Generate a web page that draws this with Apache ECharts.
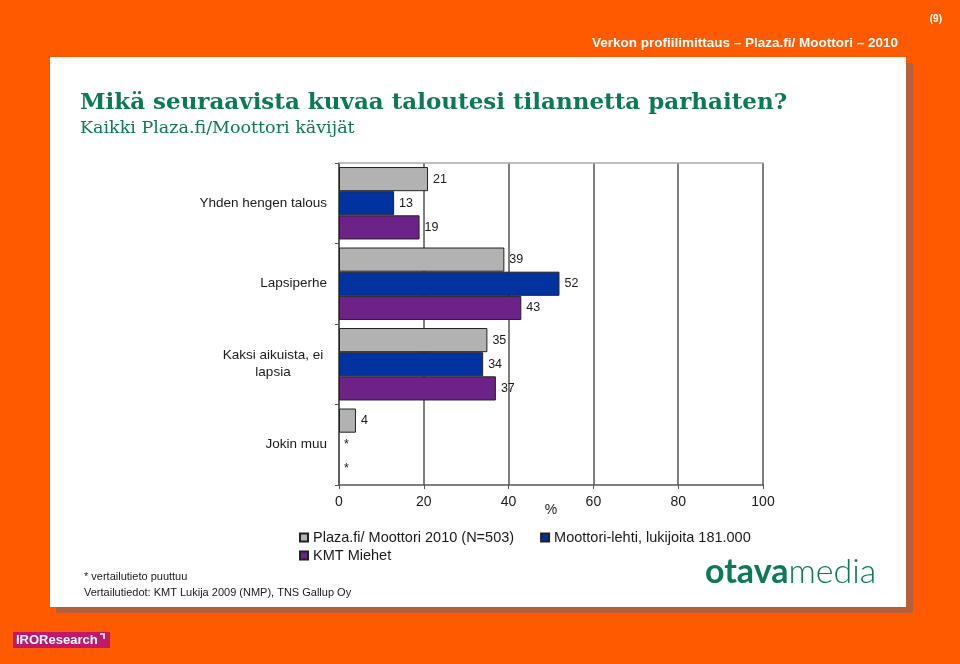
<!DOCTYPE html>
<html><head><meta charset="utf-8">
<script src="https://cdn.jsdelivr.net/npm/echarts@6/dist/echarts.min.js"></script>
<style>html,body{margin:0;padding:0;background:#FF5A00}#c{width:960px;height:664px}</style>
</head><body><div id="c"></div>
<script>
const categories = ['Yhden hengen talous', 'Lapsiperhe', 'Kaksi aikuista, ei\nlapsia', 'Jokin muu'];
const seriesNames = ['Plaza.fi/ Moottori 2010 (N=503)', 'Moottori-lehti, lukijoita 181.000', 'KMT Miehet'];
const plaza = [21, 39, 35, 4];
const moottori = [13, 52, 34, null];
const kmt = [19, 43, 37, null];
const xTicks = [0, 20, 40, 60, 80, 100];
const colors = ['#B2B2B2', '#0033A0', '#6C2286'];

const seriesValues = [plaza, moottori, kmt];
function mkData(arr) {
  return arr.map(v => v == null ? { value: 0, missing: true, itemStyle: { borderWidth: 0 } } : v);
}
const TXT = '#1a1a1a';
const FONT = 'Liberation Sans, Arial, sans-serif';
const GREEN = '#0B7A55';

const chart = echarts.init(document.getElementById('c'));
chart.setOption({
  backgroundColor: '#FF5A00',
  animation: false,
  textStyle: { fontFamily: FONT },
  grid: { left: 339, right: 197, top: 163, bottom: 179, containLabel: false },
  legend: [
    { data: seriesNames.slice(0, 2), left: 294, top: 525, itemWidth: 8, itemHeight: 8, itemGap: 26,
      textStyle: { fontSize: 14.5, color: TXT, fontFamily: FONT }, icon: 'rect', selectedMode: false },
    { data: seriesNames.slice(2), left: 294, top: 543, itemWidth: 8, itemHeight: 8,
      textStyle: { fontSize: 14.5, color: TXT, fontFamily: FONT }, icon: 'rect', selectedMode: false }
  ],
  xAxis: [
    { type: 'value', min: xTicks[0], max: xTicks[xTicks.length - 1], interval: 20,
      name: '%', nameLocation: 'middle', nameGap: 18, nameMoveOverlap: false,
      nameTextStyle: { fontSize: 14, color: TXT, fontFamily: FONT },
      axisLine: { show: true, lineStyle: { color: '#555', width: 1.5 } },
      axisTick: { show: true, length: 4, lineStyle: { color: '#555' } },
      axisLabel: { fontSize: 14, color: TXT, margin: 10, fontFamily: FONT },
      splitLine: { show: true, lineStyle: { color: '#555', width: 1.5 } } },
    { type: 'value', position: 'top', min: 0, max: 100,
      axisLine: { show: true, lineStyle: { color: '#aaa', width: 1.5 } },
      axisTick: { show: false }, axisLabel: { show: false }, splitLine: { show: false } }
  ],
  yAxis: {
    type: 'category', data: categories, inverse: true,
    axisLine: { show: true, lineStyle: { color: '#555', width: 1.5 } },
    axisTick: { show: true, length: 4, lineStyle: { color: '#555' } },
    axisLabel: {
      fontSize: 13.5, color: TXT, margin: 12, fontFamily: FONT, lineHeight: 17,
      formatter: v => v.indexOf('\n') >= 0 ? v.split('\n').map(s => '{c|' + s + '}').join('\n') : v,
      rich: { c: { width: 108, align: 'center', fontSize: 13.5, color: TXT, lineHeight: 17, fontFamily: FONT } }
    }
  },
  series: seriesNames.map((n, i) => ({
    name: n, type: 'bar', xAxisIndex: 0,
    data: mkData(seriesValues[i]),
    barGap: '0%', barCategoryGap: '10%',
    itemStyle: { color: colors[i], borderColor: '#222', borderWidth: 1 },
    label: { show: true, position: 'right', distance: 5, fontSize: 12.5, color: TXT, fontFamily: FONT,
      formatter: p => (p.data && p.data.missing) ? '*' : p.value }
  })),
  graphic: [
    { type: 'rect', z: -2, shape: { x: 56, y: 63, width: 857, height: 550 }, style: { fill: '#B5603A' } },
    { type: 'rect', z: -1, shape: { x: 50, y: 57, width: 856, height: 550 }, style: { fill: '#ffffff' } },
    { type: 'text', x: 942, y: 19, style: { text: '(9)', fill: '#fff', font: 'bold 10px ' + FONT, align: 'right', verticalAlign: 'middle' } },
    { type: 'text', x: 898, y: 43, style: { text: 'Verkon profiilimittaus – Plaza.fi/ Moottori – 2010', fill: '#fff', font: 'bold 13.5px ' + FONT, align: 'right', verticalAlign: 'middle' } },
    { type: 'text', x: 80, y: 103, style: { text: 'Mikä seuraavista kuvaa taloutesi tilannetta parhaiten?', fill: GREEN, font: 'bold 23px DejaVu Serif, serif', align: 'left', verticalAlign: 'middle' } },
    { type: 'text', x: 80, y: 128, style: { text: 'Kaikki Plaza.fi/Moottori kävijät', fill: GREEN, font: '17.5px DejaVu Serif, serif', align: 'left', verticalAlign: 'middle' } },
    { type: 'text', x: 84, y: 577, style: { text: '* vertailutieto puuttuu', fill: TXT, font: '11px ' + FONT, verticalAlign: 'middle' } },
    { type: 'text', x: 84, y: 593, style: { text: 'Vertailutiedot: KMT Lukija 2009 (NMP), TNS Gallup Oy', fill: TXT, font: '11px ' + FONT, verticalAlign: 'middle' } },
    { type: 'text', x: 705, y: 572, style: { text: '{b|otava}{l|media}', verticalAlign: 'middle', fill: GREEN,
      rich: { b: { fontFamily: 'Lato, sans-serif', fontWeight: 'bold', fontSize: 34, fill: GREEN, color: GREEN },
              l: { fontFamily: 'Lato, sans-serif', fontWeight: 300, fontSize: 34, fill: GREEN, color: GREEN } } } },
    { type: 'rect', shape: { x: 13, y: 632, width: 97, height: 16 }, style: { fill: '#C2186B' } },
    { type: 'text', x: 16, y: 640, style: { text: 'IROResearch', fill: '#fff', font: 'bold 13px ' + FONT, verticalAlign: 'middle' } },
    { type: 'polyline', shape: { points: [[100, 634], [104, 634], [104, 639]] }, style: { stroke: '#fff', lineWidth: 1.5, fill: null } }
  ]
});
</script></body></html>
